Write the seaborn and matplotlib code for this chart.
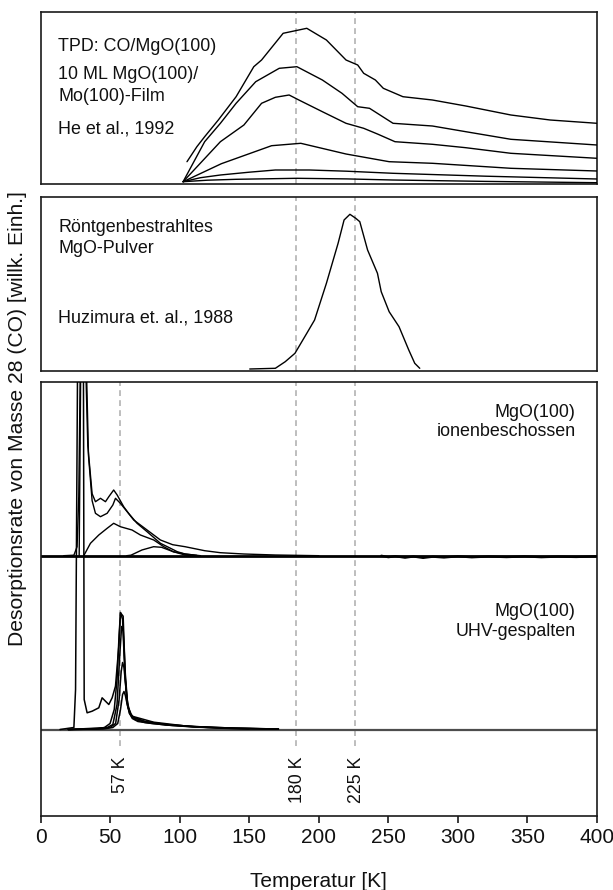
import numpy as np
import pandas as pd
import matplotlib
matplotlib.use("Agg")
import matplotlib.pyplot as plt
import seaborn as sns

# ---------------- data ----------------
# Panel 1: He et al., 1992  (temperature in K, rate in arbitrary units)
he_T_1 = [105.3, 112.4, 118, 127.8, 140.6, 153.3, 158.9, 174.4, 191.4, 205.5, 219.6, 228,
          232.3, 240.7, 246.4, 260.5, 281.7, 305.7, 338.1, 366.3, 400]
he_h_1 = [24, 39, 49, 65.7, 89, 119, 125.7, 152.4, 157.4, 145.7, 125.7, 120.7,
          112.4, 105.7, 97.4, 89, 85.7, 79.7, 70.7, 65.7, 62.4]
he_T_2 = [102.5, 118, 129.3, 140.6, 154.7, 171.6, 184.3, 202.6, 216.7, 228, 236.5, 253.4,
          281.7, 305.7, 338.1, 400]
he_h_2 = [4, 44, 62.4, 82.4, 104, 117.4, 119, 105.7, 92.4, 79, 77.4, 62.4,
          59.7, 54, 46.4, 40.7]
he_T_3 = [102.5, 129.3, 146.2, 158.9, 168.8, 178.7, 185.7, 202.6, 219.6, 232.3, 242.2,
          254.8, 281.7, 305.7, 338.1, 400]
he_h_3 = [4, 44, 60.7, 82.4, 88.4, 90.7, 85.7, 74, 62.4, 57.4, 51.7,
          44, 41.4, 38, 32.4, 27.4]
he_T_4 = [102.5, 130, 166.1, 187.1, 219.6, 250.6, 281.7, 338.1, 400]
he_h_4 = [4, 22, 40, 42.4, 31.7, 24, 22.4, 17.4, 14.7]
he_T_5 = [102.5, 115, 129.3, 150, 168.8, 193.3, 220, 253.4, 320, 400]
he_h_5 = [4, 8, 10.7, 13.5, 15.7, 15.7, 14.5, 12.4, 9.5, 6.7]
he_T_6 = [102.5, 120, 140.6, 184, 220, 253, 320, 400]
he_h_6 = [4, 5.5, 6.4, 7.4, 6.8, 5.7, 4.3, 3]

# Panel 2: Huzimura et al., 1988
hz_T = [150.4, 168.8, 175.9, 182.9, 191.4, 197, 205.5, 213.9, 218.2, 222.4, 226.6, 229.5,
        235.1, 242.2, 244.9, 250.6, 257.7, 264.7, 269, 272.6]
hz_h = [2, 2.7, 9.3, 17.7, 37.7, 51, 87.7, 127.7, 151, 156.7, 152.7, 149.3,
        121, 97.7, 79.3, 59.3, 44.3, 21, 7.7, 2.7]

# Panel 3a: MgO(100) ion-bombarded
ion_T_a = [16.7, 24, 26.3, 27.5, 28.7, 32.3, 34, 37.1, 39.5, 43.1, 46.7, 49.1, 52.6, 55.1,
           59.8, 64, 67, 76.6, 86.2, 95, 103.9, 118, 129.3, 146.2, 168.8, 200]
ion_h_a = [0, 0.5, 9, 59, 200, 200, 110, 62, 54, 57.4, 54, 59, 65.7, 60.7,
           49, 41, 35.7, 25.7, 15.7, 11, 9, 5, 3, 1.7, 0.7, 0]
ion_T_b = [27.8, 29, 32.8, 34.5, 37.1, 39.5, 43.1, 47.9, 52, 53.9, 57.4, 62.3, 69.4, 76.6,
           86.2, 92.6, 98.3, 103.9, 115]
ion_h_b = [0, 200, 200, 100, 55, 42.4, 39, 42.4, 50.7, 57.4, 52.4, 44, 32.4, 24,
           12.4, 8, 4, 1.7, 0]
ion_T_c = [31.1, 35.9, 41.9, 47.9, 52.6, 57.4, 65.8, 71.8, 81.4, 88.6, 95.4, 103.9, 112.4]
ion_h_c = [0, 12.4, 20.7, 27.4, 32.4, 29, 25.7, 20.7, 15.7, 9, 4, 1.7, 0.3]
ion_T_d = [62, 65, 72.9, 81.3, 87, 95.4, 103.9, 110]
ion_h_d = [0, 0.5, 5.7, 9, 8.4, 4, 0.7, 0]
# noisy high-temperature baseline of the ion-bombarded sample
ion_T_noise = [245, 250, 255, 262, 268, 275, 282, 290, 300, 310, 322, 335, 348, 360, 372, 385, 400]
ion_h_noise = [0, -1.5, -0.5, -2, -0.8, -2.2, -1, -1.8, -0.6, -1.6, -0.8, -1.4, -0.7, -1.5, -0.9, -1.3, -0.6]

# Panel 3b: MgO(100) UHV-cleaved
uhv_T_a = [14, 24, 25.2, 26.8, 30.8, 31.4, 33.5, 37.1, 41.9, 44.3, 46.7, 49.1, 51.5, 53.9,
           56.3, 57.5, 59.4, 61, 62.7, 65.8, 81.4, 105.3, 129.3, 150]
uhv_h_a = [0, 2, 40, 400, 400, 30, 16.7, 18.3, 21.7, 31.7, 28.3, 25, 31.7, 43.3,
           83.3, 116.7, 113.3, 50, 23.3, 13.3, 7.3, 3.3, 1.3, 0.5]
uhv_T_b = [20, 40, 46, 50, 53, 55, 56.5, 57.5, 59, 60.5, 62, 64, 67, 75, 90, 110, 140, 171]
uhv_h_b = [0, 0.5, 2, 6, 20, 50, 95, 117, 110, 60, 28, 16, 12, 8, 5, 3, 1.3, 0.5]
uhv_T_c = [20, 42, 48, 52, 55, 57, 58.3, 59.5, 61, 62.5, 64.5, 67, 75, 90, 110, 140, 171]
uhv_h_c = [0, 1.5, 2, 5, 25, 75, 103, 98, 55, 27, 16, 12, 8, 5, 3, 1.3, 0.5]
uhv_T_d = [20, 42, 50, 54, 56.5, 58, 59, 60, 61.5, 63, 65, 68, 75, 90, 110, 140, 171]
uhv_h_d = [0, 1, 2, 6, 30, 58, 67, 62, 40, 22, 14, 10, 7, 4.5, 2.5, 1, 0.4]
uhv_T_e = [20, 45, 52, 55.5, 57.5, 59, 60, 61, 62.5, 64, 66, 70, 80, 95, 120, 150, 171]
uhv_h_e = [0, 0.5, 2, 6, 20, 35, 38, 34, 24, 16, 11, 8, 6, 4, 2, 1, 0.3]

marker_T = [57, 184, 226]
marker_labels = ["57 K", "180 K", "225 K"]
xticks = [0, 50, 100, 150, 200, 250, 300, 350, 400]

# ---------------- layout / style ----------------
sns.set_theme(style="white")
plt.rcParams['font.family'] = ['Liberation Sans', 'DejaVu Sans']

W, H = 613, 890
fig = plt.figure(figsize=(W / 100, H / 100), dpi=100)
fig.patch.set_facecolor("white")

def ax_at(top, bottom, left=40.5, right=597):
    return fig.add_axes([left / W, 1 - bottom / H, (right - left) / W, (bottom - top) / H])

ax1 = ax_at(11.7, 184.3)
ax2 = ax_at(196.7, 371)
ax3 = ax_at(381.7, 816)

ION_BASE = 260.3
UHV_BASE = 86.5
DASH = dict(color="#b3b3b3", lw=1.2, dashes=(3.5, 2.5), zorder=1)

def draw(ax, T, h, base=0.0, lw=1.0):
    y = np.asarray(h, dtype=float) + base
    sns.lineplot(x=T, y=y, ax=ax, color="black", lw=lw, sort=False,
                 estimator=None, zorder=3)

for ax in (ax1, ax2, ax3):
    ax.set_xlim(0, 400)
    for s in ax.spines.values():
        s.set_color("#1a1a1a")
        s.set_linewidth(1.2)

# panel 1
for T, h in [(he_T_1, he_h_1), (he_T_2, he_h_2), (he_T_3, he_h_3),
             (he_T_4, he_h_4), (he_T_5, he_h_5), (he_T_6, he_h_6)]:
    draw(ax1, T, h)
ax1.set_ylim(1.4, 174)
for t in marker_T[1:]:
    ax1.axvline(t, **DASH)

# panel 2
draw(ax2, hz_T, hz_h)
ax2.set_ylim(0, 174.3)
for t in marker_T[1:]:
    ax2.axvline(t, **DASH)

# panel 3
ax3.set_ylim(0, 434.3)
for t in marker_T:
    ax3.plot([t, t], [70.3, 434.3], **DASH)
ax3.axhline(ION_BASE, color="black", lw=2.0, zorder=2)
ax3.axhline(UHV_BASE, color="#4d4d4d", lw=1.6, zorder=2)
for T, h in [(ion_T_a, ion_h_a), (ion_T_b, ion_h_b), (ion_T_c, ion_h_c), (ion_T_d, ion_h_d)]:
    draw(ax3, T, h, ION_BASE)
draw(ax3, ion_T_noise, ion_h_noise, ION_BASE, lw=1.6)
for T, h in [(uhv_T_a, uhv_h_a), (uhv_T_b, uhv_h_b), (uhv_T_c, uhv_h_c),
             (uhv_T_d, uhv_h_d), (uhv_T_e, uhv_h_e)]:
    draw(ax3, T, h, UHV_BASE, lw=1.1)
for t, lab in zip(marker_T, marker_labels):
    ax3.text(t + 0.8, 59.3, lab, rotation=90, ha="center", va="top", fontsize=12.8, color="#111")

for ax in (ax1, ax2):
    ax.set_xticks([])
    ax.set_yticks([])
    ax.set_xlabel("")
    ax.set_ylabel("")
ax3.set_yticks([])
ax3.set_ylabel("")
ax3.set_xticks(xticks)
ax3.set_xticklabels([str(v) for v in xticks])
ax3.tick_params(axis="x", bottom=True, direction="out", length=4.8, width=1.2,
                color="#1a1a1a", labelsize=15, pad=4, labelcolor="#111")

ax3.set_xlabel("Temperatur [K]", fontsize=15, color="#111")
ax3.xaxis.set_label_coords(0.5, -(871.7 - 816) / 434.3)

fig.text(18 / W, 1 - 418.5 / H, "Desorptionsrate von Masse 28 (CO) [willk. Einh.]",
         rotation=90, ha="center", va="center", fontsize=15.2, color="#111")

FS = 12.9
def ftext(x, y, s, ha="left"):
    fig.text(x / W, 1 - y / H, s, ha=ha, va="baseline", fontsize=FS, color="#111")

ftext(58.3, 50.7, "TPD: CO/MgO(100)")
ftext(58.3, 79.3, "10 ML MgO(100)/")
ftext(58.3, 101, "Mo(100)-Film")
ftext(58.3, 133.3, "He et al., 1992")
ftext(58.3, 232.5, "Röntgenbestrahltes")
ftext(58.3, 253.3, "MgO-Pulver")
ftext(58.3, 322.5, "Huzimura et. al., 1988")
ftext(575.6, 417, "MgO(100)", ha="right")
ftext(575.6, 436.5, "ionenbeschossen", ha="right")
ftext(575.6, 616, "MgO(100)", ha="right")
ftext(575.6, 636, "UHV-gespalten", ha="right")

fig.savefig("out.png", dpi=100, facecolor="white")
